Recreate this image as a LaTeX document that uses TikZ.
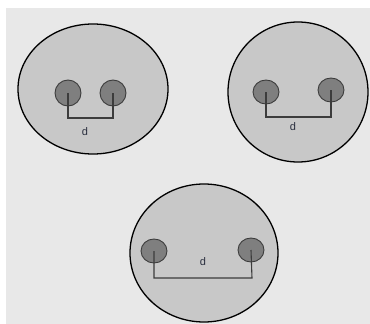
\documentclass[tikz,border=0pt]{standalone}
\usepackage{fontspec}
\setmainfont{Liberation Sans}
\definecolor{bg}{HTML}{E8E8E8}
\definecolor{big}{HTML}{C8C8C8}
\definecolor{small}{HTML}{7F7F7F}
\definecolor{ln}{HTML}{3C3C3C}
\definecolor{txt}{HTML}{2A2F3F}
\begin{document}
\begin{tikzpicture}[x=1pt,y=-1pt,
  bigc/.style={draw=black,line width=1.3pt,fill=big},
  smallc/.style={draw=ln,line width=0.9pt,fill=small},
  link/.style={draw=ln,line width=1.1pt},
  lbl/.style={text=txt,font=\fontsize{11}{13}\selectfont,inner sep=0pt}]
\useasboundingbox (0,0) rectangle (370,324);
\fill[bg] (6,8) rectangle (370,324);
% cell 1
\draw[bigc] (93,89) ellipse [x radius=75,y radius=65];
\draw[smallc] (68,93) ellipse [x radius=13,y radius=13];
\draw[smallc] (113,93) ellipse [x radius=13,y radius=13];
\coordinate (a1) at (68,93); \coordinate (b1) at (113,93);
\draw[link] (a1) -- (68,118) -- (113,118) -- (b1);
\node[lbl] (d1) at (85,132) {d};
% cell 2
\draw[bigc] (298,92) ellipse [x radius=70,y radius=70];
\draw[smallc] (266,92) ellipse [x radius=13,y radius=12];
\draw[smallc] (331,90) ellipse [x radius=13,y radius=12];
\coordinate (a2) at (266,92); \coordinate (b2) at (331,90);
\draw[link] (a2) -- (266,117) -- (331,117) -- (b2);
\node[lbl] (d2) at (293,127) {d};
% cell 3
\draw[bigc] (204,253) ellipse [x radius=74,y radius=69];
\draw[smallc] (154,251) ellipse [x radius=13,y radius=12];
\draw[smallc] (251,250) ellipse [x radius=13,y radius=12];
\coordinate (a3) at (154,251); \coordinate (b3) at (251,250);
\draw[link] (a3) -- (154,278) -- (252,278) -- (b3);
\node[lbl] (d3) at (203,262) {d};
\end{tikzpicture}
\end{document}
